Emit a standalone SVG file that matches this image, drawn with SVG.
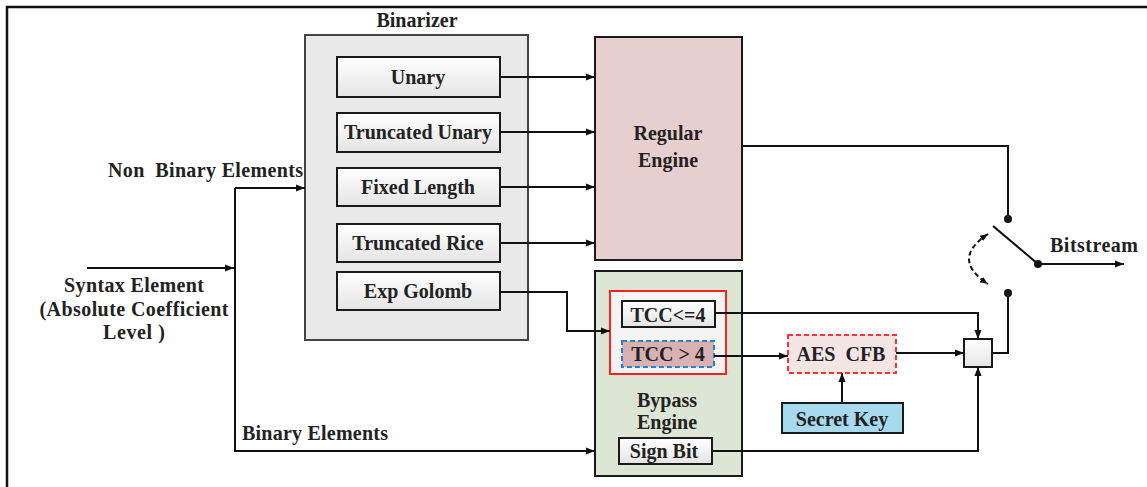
<svg xmlns="http://www.w3.org/2000/svg" width="1147" height="487" viewBox="0 0 1147 487">
<defs>
<linearGradient id="g" x1="0" y1="0" x2="0" y2="1">
<stop offset="0" stop-color="#ffffff"/>
<stop offset="1" stop-color="#e4e4e4"/>
</linearGradient>
<marker id="a" viewBox="0 0 10 10" refX="10" refY="5" markerWidth="9" markerHeight="9" markerUnits="userSpaceOnUse" orient="auto-start-reverse">
<path d="M0,1 L10,5 L0,9 Z" fill="#111"/>
</marker>
<marker id="s" viewBox="0 0 10 10" refX="10" refY="5" markerWidth="8" markerHeight="8" markerUnits="userSpaceOnUse" orient="auto-start-reverse">
<path d="M0,1 L10,5 L0,9 Z" fill="#111"/>
</marker>
</defs>
<style>
text{font-family:"Liberation Serif","Times New Roman",serif;font-weight:bold;font-size:20px;fill:#222;white-space:pre}
.c{text-anchor:middle}
.box{fill:url(#g);stroke:#1a1a1a;stroke-width:2}
.ln{fill:none;stroke:#111;stroke-width:2}
.ar{fill:none;stroke:#111;stroke-width:2;marker-end:url(#a)}
</style>
<rect x="7" y="7" width="1160" height="500" fill="#fff" stroke="#111" stroke-width="2.5"/>

<g id="binarizer">
<text class="c" x="417" y="27">Binarizer</text>
<rect x="305" y="35" width="223" height="305" fill="#e9e9e9" stroke="#444" stroke-width="2"/>
</g>
<g id="unary"><rect class="box" x="337" y="57" width="163" height="40"/><text class="c" x="418" y="84">Unary</text></g>
<g id="truncated-unary"><rect class="box" x="337" y="113" width="163" height="39"/><text class="c" x="418" y="139">Truncated Unary</text></g>
<g id="fixed-length"><rect class="box" x="337" y="168" width="163" height="38"/><text class="c" x="418" y="194">Fixed Length</text></g>
<g id="truncated-rice"><rect class="box" x="337" y="224" width="163" height="38"/><text class="c" x="418" y="250">Truncated Rice</text></g>
<g id="exp-golomb"><rect class="box" x="337" y="272" width="163" height="38"/><text class="c" x="418" y="298">Exp Golomb</text></g>

<g id="regular-engine">
<rect x="595" y="37" width="147" height="223" fill="#e7cfcf" stroke="#1a1a1a" stroke-width="2"/>
<text class="c" x="668" y="140">Regular</text>
<text class="c" x="668" y="167">Engine</text>
</g>

<g id="bypass-engine">
<rect x="595" y="271" width="147" height="205" fill="#dde5d4" stroke="#1a1a1a" stroke-width="2"/>
<text class="c" x="667" y="407">Bypass</text>
<text class="c" x="667" y="429">Engine</text>
</g>
<g id="tcc-group"><rect x="610" y="291" width="116" height="83" fill="#f4f4f4" stroke="#ff2020" stroke-width="2"/></g>
<g id="tcc-le4"><rect class="box" x="622" y="301" width="93" height="26"/><text class="c" x="668" y="322">TCC&lt;=4</text></g>
<g id="tcc-gt4"><rect x="622" y="341" width="92" height="26" fill="#d8b2b2" stroke="#2a7fd4" stroke-width="2" stroke-dasharray="5,3"/><text class="c" x="668" y="361">TCC &gt; 4</text></g>
<g id="sign-bit"><rect class="box" x="619" y="438" width="93" height="26"/><text class="c" x="664" y="458">Sign Bit</text></g>

<g id="aes-cfb"><rect x="788" y="335" width="108" height="38" fill="#f4e5e5" stroke="#ff3030" stroke-width="2" stroke-dasharray="5,3"/><text class="c" x="841" y="361">AES  CFB</text></g>
<g id="secret-key"><rect x="782" y="403" width="121" height="30" fill="#a7d9ef" stroke="#1a1a1a" stroke-width="2"/><text class="c" x="842" y="426">Secret Key</text></g>
<g id="combiner"><rect class="box" x="964" y="339" width="28" height="28"/></g>

<g id="switch">
<circle cx="1008" cy="219" r="4" fill="#111"/>
<circle cx="1038" cy="264" r="4" fill="#111"/>
<circle cx="1008" cy="293" r="4" fill="#111"/>
<path class="ln" d="M993,226 L1038,264"/>
<path d="M988,234 Q950,259 988,284" fill="none" stroke="#111" stroke-width="2" stroke-dasharray="5,3" marker-start="url(#s)" marker-end="url(#s)"/>
</g>

<g id="labels">
<text x="108" y="177" textLength="195" lengthAdjust="spacing">Non  Binary Elements</text>
<text class="c" x="134" y="292" textLength="140" lengthAdjust="spacing">Syntax Element</text>
<text class="c" x="134" y="316" textLength="189" lengthAdjust="spacing">(Absolute Coefficient</text>
<text class="c" x="134" y="339" textLength="62" lengthAdjust="spacing">Level )</text>
<text x="242" y="440" textLength="146" lengthAdjust="spacing">Binary Elements</text>
<text x="1050" y="252" textLength="88" lengthAdjust="spacing">Bitstream</text>
</g>

<g id="connectors">
<path class="ar" d="M87,268 H234"/>
<path class="ln" d="M235,188 V452"/>
<path class="ar" d="M235,188 H305"/>
<path class="ar" d="M235,451 H595"/>
<path class="ar" d="M500,77 H595"/>
<path class="ar" d="M500,132 H595"/>
<path class="ar" d="M500,187 H595"/>
<path class="ar" d="M500,243 H595"/>
<path class="ar" d="M500,292 H567 V331 H610"/>
<path class="ln" d="M742,146 H1008 V219"/>
<path class="ar" d="M1038,264 H1124"/>
<path class="ln" d="M992,353 H1008 V293"/>
<path class="ar" d="M715,313 H978 V339"/>
<path class="ar" d="M714,356 H788"/>
<path class="ar" d="M896,353 H964"/>
<path class="ar" d="M842,403 V373"/>
<path class="ar" d="M712,451 H978 V367"/>
</g>
</svg>
